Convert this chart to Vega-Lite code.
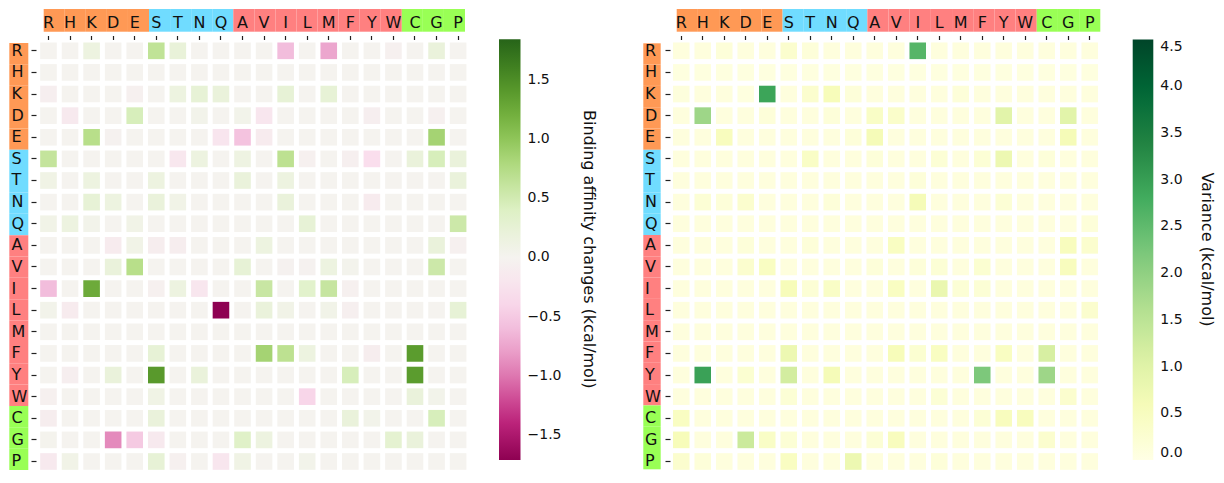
{
"$schema": "https://vega.github.io/schema/vega-lite/v6.json",
"width": 1224, "height": 483, "autosize": {"type": "none"}, "padding": 0,
"background": "white",
"config": {"font": "DejaVu Sans", "view": {"stroke": null}},
"datasets": {
"groups": [{"aa":"R","grp":"charged"},{"aa":"H","grp":"charged"},{"aa":"K","grp":"charged"},{"aa":"D","grp":"charged"},{"aa":"E","grp":"charged"},{"aa":"S","grp":"polar"},{"aa":"T","grp":"polar"},{"aa":"N","grp":"polar"},{"aa":"Q","grp":"polar"},{"aa":"A","grp":"hydrophobic"},{"aa":"V","grp":"hydrophobic"},{"aa":"I","grp":"hydrophobic"},{"aa":"L","grp":"hydrophobic"},{"aa":"M","grp":"hydrophobic"},{"aa":"F","grp":"hydrophobic"},{"aa":"Y","grp":"hydrophobic"},{"aa":"W","grp":"hydrophobic"},{"aa":"C","grp":"special"},{"aa":"G","grp":"special"},{"aa":"P","grp":"special"}],
"aff": [
{"r":"R","c":"R","v":0},{"r":"R","c":"H","v":0},{"r":"R","c":"K","v":0.15},{"r":"R","c":"D","v":0},{"r":"R","c":"E","v":0},{"r":"R","c":"S","v":0.65},{"r":"R","c":"T","v":0.22},{"r":"R","c":"N","v":0},{"r":"R","c":"Q","v":0},{"r":"R","c":"A","v":0},{"r":"R","c":"V","v":0},{"r":"R","c":"I","v":-0.6},{"r":"R","c":"L","v":0},{"r":"R","c":"M","v":-0.75},{"r":"R","c":"F","v":0},{"r":"R","c":"Y","v":0},{"r":"R","c":"W","v":-0.04},{"r":"R","c":"C","v":0},{"r":"R","c":"G","v":0.2},{"r":"R","c":"P","v":0},
{"r":"H","c":"R","v":0},{"r":"H","c":"H","v":0},{"r":"H","c":"K","v":0},{"r":"H","c":"D","v":0},{"r":"H","c":"E","v":0},{"r":"H","c":"S","v":0},{"r":"H","c":"T","v":0},{"r":"H","c":"N","v":0},{"r":"H","c":"Q","v":0},{"r":"H","c":"A","v":0},{"r":"H","c":"V","v":0},{"r":"H","c":"I","v":0},{"r":"H","c":"L","v":0},{"r":"H","c":"M","v":0},{"r":"H","c":"F","v":0},{"r":"H","c":"Y","v":0},{"r":"H","c":"W","v":0},{"r":"H","c":"C","v":0},{"r":"H","c":"G","v":0},{"r":"H","c":"P","v":0},
{"r":"K","c":"R","v":-0.08},{"r":"K","c":"H","v":0},{"r":"K","c":"K","v":0},{"r":"K","c":"D","v":0},{"r":"K","c":"E","v":-0.04},{"r":"K","c":"S","v":0},{"r":"K","c":"T","v":0.15},{"r":"K","c":"N","v":0.25},{"r":"K","c":"Q","v":0.2},{"r":"K","c":"A","v":0},{"r":"K","c":"V","v":0},{"r":"K","c":"I","v":0.25},{"r":"K","c":"L","v":0},{"r":"K","c":"M","v":0.25},{"r":"K","c":"F","v":0},{"r":"K","c":"Y","v":0},{"r":"K","c":"W","v":0},{"r":"K","c":"C","v":0},{"r":"K","c":"G","v":0},{"r":"K","c":"P","v":0},
{"r":"D","c":"R","v":0},{"r":"D","c":"H","v":-0.15},{"r":"D","c":"K","v":0},{"r":"D","c":"D","v":0},{"r":"D","c":"E","v":0.45},{"r":"D","c":"S","v":0},{"r":"D","c":"T","v":0},{"r":"D","c":"N","v":0.05},{"r":"D","c":"Q","v":0},{"r":"D","c":"A","v":0.05},{"r":"D","c":"V","v":-0.2},{"r":"D","c":"I","v":0},{"r":"D","c":"L","v":0},{"r":"D","c":"M","v":0},{"r":"D","c":"F","v":0},{"r":"D","c":"Y","v":-0.08},{"r":"D","c":"W","v":0},{"r":"D","c":"C","v":0},{"r":"D","c":"G","v":-0.05},{"r":"D","c":"P","v":0},
{"r":"E","c":"R","v":0},{"r":"E","c":"H","v":0},{"r":"E","c":"K","v":0.72},{"r":"E","c":"D","v":-0.03},{"r":"E","c":"E","v":0},{"r":"E","c":"S","v":0},{"r":"E","c":"T","v":0},{"r":"E","c":"N","v":0},{"r":"E","c":"Q","v":-0.22},{"r":"E","c":"A","v":-0.55},{"r":"E","c":"V","v":-0.13},{"r":"E","c":"I","v":0},{"r":"E","c":"L","v":0},{"r":"E","c":"M","v":0},{"r":"E","c":"F","v":0},{"r":"E","c":"Y","v":0},{"r":"E","c":"W","v":0},{"r":"E","c":"C","v":0},{"r":"E","c":"G","v":0.85},{"r":"E","c":"P","v":0},
{"r":"S","c":"R","v":0.62},{"r":"S","c":"H","v":0},{"r":"S","c":"K","v":0},{"r":"S","c":"D","v":0},{"r":"S","c":"E","v":0},{"r":"S","c":"S","v":0},{"r":"S","c":"T","v":-0.18},{"r":"S","c":"N","v":0.15},{"r":"S","c":"Q","v":0},{"r":"S","c":"A","v":0.13},{"r":"S","c":"V","v":0},{"r":"S","c":"I","v":0.68},{"r":"S","c":"L","v":-0.04},{"r":"S","c":"M","v":0},{"r":"S","c":"F","v":-0.06},{"r":"S","c":"Y","v":-0.32},{"r":"S","c":"W","v":0},{"r":"S","c":"C","v":0.2},{"r":"S","c":"G","v":0.45},{"r":"S","c":"P","v":0.2},
{"r":"T","c":"R","v":0.1},{"r":"T","c":"H","v":0},{"r":"T","c":"K","v":0.15},{"r":"T","c":"D","v":0},{"r":"T","c":"E","v":0},{"r":"T","c":"S","v":0.15},{"r":"T","c":"T","v":0},{"r":"T","c":"N","v":0},{"r":"T","c":"Q","v":0},{"r":"T","c":"A","v":0.2},{"r":"T","c":"V","v":0},{"r":"T","c":"I","v":0.15},{"r":"T","c":"L","v":0},{"r":"T","c":"M","v":0},{"r":"T","c":"F","v":0},{"r":"T","c":"Y","v":0},{"r":"T","c":"W","v":0},{"r":"T","c":"C","v":0},{"r":"T","c":"G","v":0},{"r":"T","c":"P","v":0.2},
{"r":"N","c":"R","v":0},{"r":"N","c":"H","v":0},{"r":"N","c":"K","v":0.25},{"r":"N","c":"D","v":0.15},{"r":"N","c":"E","v":0},{"r":"N","c":"S","v":0.2},{"r":"N","c":"T","v":0.08},{"r":"N","c":"N","v":0},{"r":"N","c":"Q","v":0},{"r":"N","c":"A","v":0},{"r":"N","c":"V","v":0},{"r":"N","c":"I","v":0.2},{"r":"N","c":"L","v":0},{"r":"N","c":"M","v":0},{"r":"N","c":"F","v":0},{"r":"N","c":"Y","v":-0.12},{"r":"N","c":"W","v":0},{"r":"N","c":"C","v":0},{"r":"N","c":"G","v":0},{"r":"N","c":"P","v":0},
{"r":"Q","c":"R","v":0.08},{"r":"Q","c":"H","v":0.15},{"r":"Q","c":"K","v":0.05},{"r":"Q","c":"D","v":0},{"r":"Q","c":"E","v":0.08},{"r":"Q","c":"S","v":0},{"r":"Q","c":"T","v":0},{"r":"Q","c":"N","v":0},{"r":"Q","c":"Q","v":0},{"r":"Q","c":"A","v":0},{"r":"Q","c":"V","v":0},{"r":"Q","c":"I","v":0},{"r":"Q","c":"L","v":0.25},{"r":"Q","c":"M","v":0},{"r":"Q","c":"F","v":0},{"r":"Q","c":"Y","v":0},{"r":"Q","c":"W","v":0},{"r":"Q","c":"C","v":0},{"r":"Q","c":"G","v":0},{"r":"Q","c":"P","v":0.55},
{"r":"A","c":"R","v":0},{"r":"A","c":"H","v":0},{"r":"A","c":"K","v":0},{"r":"A","c":"D","v":-0.13},{"r":"A","c":"E","v":0.08},{"r":"A","c":"S","v":-0.1},{"r":"A","c":"T","v":-0.1},{"r":"A","c":"N","v":0},{"r":"A","c":"Q","v":0},{"r":"A","c":"A","v":0},{"r":"A","c":"V","v":0.15},{"r":"A","c":"I","v":0},{"r":"A","c":"L","v":0},{"r":"A","c":"M","v":0},{"r":"A","c":"F","v":0},{"r":"A","c":"Y","v":0},{"r":"A","c":"W","v":0},{"r":"A","c":"C","v":0},{"r":"A","c":"G","v":0.2},{"r":"A","c":"P","v":-0.04},
{"r":"V","c":"R","v":0},{"r":"V","c":"H","v":0},{"r":"V","c":"K","v":0},{"r":"V","c":"D","v":0.2},{"r":"V","c":"E","v":0.72},{"r":"V","c":"S","v":0},{"r":"V","c":"T","v":0},{"r":"V","c":"N","v":0},{"r":"V","c":"Q","v":0},{"r":"V","c":"A","v":0.25},{"r":"V","c":"V","v":0},{"r":"V","c":"I","v":-0.03},{"r":"V","c":"L","v":-0.03},{"r":"V","c":"M","v":0.15},{"r":"V","c":"F","v":0.03},{"r":"V","c":"Y","v":0},{"r":"V","c":"W","v":0},{"r":"V","c":"C","v":0},{"r":"V","c":"G","v":0.55},{"r":"V","c":"P","v":0},
{"r":"I","c":"R","v":-0.6},{"r":"I","c":"H","v":0},{"r":"I","c":"K","v":1.25},{"r":"I","c":"D","v":0},{"r":"I","c":"E","v":0},{"r":"I","c":"S","v":-0.05},{"r":"I","c":"T","v":0.15},{"r":"I","c":"N","v":-0.2},{"r":"I","c":"Q","v":0},{"r":"I","c":"A","v":0},{"r":"I","c":"V","v":0.58},{"r":"I","c":"I","v":0},{"r":"I","c":"L","v":0.35},{"r":"I","c":"M","v":0.6},{"r":"I","c":"F","v":-0.05},{"r":"I","c":"Y","v":0},{"r":"I","c":"W","v":0},{"r":"I","c":"C","v":0},{"r":"I","c":"G","v":0},{"r":"I","c":"P","v":0},
{"r":"L","c":"R","v":0.05},{"r":"L","c":"H","v":-0.12},{"r":"L","c":"K","v":0},{"r":"L","c":"D","v":0},{"r":"L","c":"E","v":0},{"r":"L","c":"S","v":0},{"r":"L","c":"T","v":0},{"r":"L","c":"N","v":0},{"r":"L","c":"Q","v":-1.71},{"r":"L","c":"A","v":0},{"r":"L","c":"V","v":0.2},{"r":"L","c":"I","v":0.08},{"r":"L","c":"L","v":0},{"r":"L","c":"M","v":0.07},{"r":"L","c":"F","v":-0.06},{"r":"L","c":"Y","v":0},{"r":"L","c":"W","v":0},{"r":"L","c":"C","v":0},{"r":"L","c":"G","v":0},{"r":"L","c":"P","v":0.25},
{"r":"M","c":"R","v":0},{"r":"M","c":"H","v":0},{"r":"M","c":"K","v":0},{"r":"M","c":"D","v":0},{"r":"M","c":"E","v":0},{"r":"M","c":"S","v":0},{"r":"M","c":"T","v":0},{"r":"M","c":"N","v":0},{"r":"M","c":"Q","v":0},{"r":"M","c":"A","v":0},{"r":"M","c":"V","v":0},{"r":"M","c":"I","v":0},{"r":"M","c":"L","v":0},{"r":"M","c":"M","v":0},{"r":"M","c":"F","v":0},{"r":"M","c":"Y","v":0},{"r":"M","c":"W","v":0},{"r":"M","c":"C","v":0},{"r":"M","c":"G","v":0},{"r":"M","c":"P","v":0},
{"r":"F","c":"R","v":0},{"r":"F","c":"H","v":0},{"r":"F","c":"K","v":0},{"r":"F","c":"D","v":0},{"r":"F","c":"E","v":0},{"r":"F","c":"S","v":0.25},{"r":"F","c":"T","v":0},{"r":"F","c":"N","v":0},{"r":"F","c":"Q","v":0},{"r":"F","c":"A","v":0},{"r":"F","c":"V","v":0.85},{"r":"F","c":"I","v":0.68},{"r":"F","c":"L","v":0.15},{"r":"F","c":"M","v":0},{"r":"F","c":"F","v":0},{"r":"F","c":"Y","v":-0.1},{"r":"F","c":"W","v":0},{"r":"F","c":"C","v":1.38},{"r":"F","c":"G","v":0},{"r":"F","c":"P","v":0},
{"r":"Y","c":"R","v":0},{"r":"Y","c":"H","v":-0.08},{"r":"Y","c":"K","v":0},{"r":"Y","c":"D","v":0.2},{"r":"Y","c":"E","v":0},{"r":"Y","c":"S","v":1.4},{"r":"Y","c":"T","v":0},{"r":"Y","c":"N","v":0.2},{"r":"Y","c":"Q","v":0},{"r":"Y","c":"A","v":0},{"r":"Y","c":"V","v":0},{"r":"Y","c":"I","v":0},{"r":"Y","c":"L","v":0},{"r":"Y","c":"M","v":0},{"r":"Y","c":"F","v":0.45},{"r":"Y","c":"Y","v":0},{"r":"Y","c":"W","v":0},{"r":"Y","c":"C","v":1.38},{"r":"Y","c":"G","v":0},{"r":"Y","c":"P","v":0},
{"r":"W","c":"R","v":-0.05},{"r":"W","c":"H","v":0},{"r":"W","c":"K","v":0},{"r":"W","c":"D","v":0},{"r":"W","c":"E","v":0},{"r":"W","c":"S","v":0.1},{"r":"W","c":"T","v":0},{"r":"W","c":"N","v":0},{"r":"W","c":"Q","v":0},{"r":"W","c":"A","v":0},{"r":"W","c":"V","v":0},{"r":"W","c":"I","v":0},{"r":"W","c":"L","v":-0.4},{"r":"W","c":"M","v":0},{"r":"W","c":"F","v":0},{"r":"W","c":"Y","v":0},{"r":"W","c":"W","v":0},{"r":"W","c":"C","v":0.2},{"r":"W","c":"G","v":0.05},{"r":"W","c":"P","v":0},
{"r":"C","c":"R","v":-0.1},{"r":"C","c":"H","v":0},{"r":"C","c":"K","v":0},{"r":"C","c":"D","v":0},{"r":"C","c":"E","v":0},{"r":"C","c":"S","v":0.2},{"r":"C","c":"T","v":0},{"r":"C","c":"N","v":0},{"r":"C","c":"Q","v":0},{"r":"C","c":"A","v":0},{"r":"C","c":"V","v":0},{"r":"C","c":"I","v":0},{"r":"C","c":"L","v":0},{"r":"C","c":"M","v":0},{"r":"C","c":"F","v":0.2},{"r":"C","c":"Y","v":0.05},{"r":"C","c":"W","v":0},{"r":"C","c":"C","v":0},{"r":"C","c":"G","v":0.45},{"r":"C","c":"P","v":0},
{"r":"G","c":"R","v":0.02},{"r":"G","c":"H","v":0},{"r":"G","c":"K","v":0},{"r":"G","c":"D","v":-0.9},{"r":"G","c":"E","v":-0.5},{"r":"G","c":"S","v":-0.15},{"r":"G","c":"T","v":0},{"r":"G","c":"N","v":0},{"r":"G","c":"Q","v":0},{"r":"G","c":"A","v":0.38},{"r":"G","c":"V","v":0.15},{"r":"G","c":"I","v":0},{"r":"G","c":"L","v":0},{"r":"G","c":"M","v":0},{"r":"G","c":"F","v":0},{"r":"G","c":"Y","v":0},{"r":"G","c":"W","v":0.3},{"r":"G","c":"C","v":0.2},{"r":"G","c":"G","v":0},{"r":"G","c":"P","v":0},
{"r":"P","c":"R","v":-0.15},{"r":"P","c":"H","v":0.08},{"r":"P","c":"K","v":0},{"r":"P","c":"D","v":0},{"r":"P","c":"E","v":0},{"r":"P","c":"S","v":0.25},{"r":"P","c":"T","v":-0.05},{"r":"P","c":"N","v":0},{"r":"P","c":"Q","v":-0.2},{"r":"P","c":"A","v":0.1},{"r":"P","c":"V","v":0},{"r":"P","c":"I","v":0},{"r":"P","c":"L","v":0.05},{"r":"P","c":"M","v":0},{"r":"P","c":"F","v":0},{"r":"P","c":"Y","v":0},{"r":"P","c":"W","v":0},{"r":"P","c":"C","v":0},{"r":"P","c":"G","v":0},{"r":"P","c":"P","v":0}
],
"var": [
{"r":"R","c":"R","v":0.1},{"r":"R","c":"H","v":0.1},{"r":"R","c":"K","v":0.15},{"r":"R","c":"D","v":0.1},{"r":"R","c":"E","v":0.1},{"r":"R","c":"S","v":0.3},{"r":"R","c":"T","v":0.15},{"r":"R","c":"N","v":0.1},{"r":"R","c":"Q","v":0.1},{"r":"R","c":"A","v":0.1},{"r":"R","c":"V","v":0.1},{"r":"R","c":"I","v":2.6},{"r":"R","c":"L","v":0.1},{"r":"R","c":"M","v":0.1},{"r":"R","c":"F","v":0.1},{"r":"R","c":"Y","v":0.1},{"r":"R","c":"W","v":0.1},{"r":"R","c":"C","v":0.1},{"r":"R","c":"G","v":0.1},{"r":"R","c":"P","v":0.1},
{"r":"H","c":"R","v":0.08},{"r":"H","c":"H","v":0.08},{"r":"H","c":"K","v":0.08},{"r":"H","c":"D","v":0.08},{"r":"H","c":"E","v":0.08},{"r":"H","c":"S","v":0.08},{"r":"H","c":"T","v":0.08},{"r":"H","c":"N","v":0.08},{"r":"H","c":"Q","v":0.08},{"r":"H","c":"A","v":0.08},{"r":"H","c":"V","v":0.08},{"r":"H","c":"I","v":0.08},{"r":"H","c":"L","v":0.08},{"r":"H","c":"M","v":0.08},{"r":"H","c":"F","v":0.08},{"r":"H","c":"Y","v":0.08},{"r":"H","c":"W","v":0.08},{"r":"H","c":"C","v":0.08},{"r":"H","c":"G","v":0.08},{"r":"H","c":"P","v":0.08},
{"r":"K","c":"R","v":0.12},{"r":"K","c":"H","v":0.1},{"r":"K","c":"K","v":0.1},{"r":"K","c":"D","v":0.08},{"r":"K","c":"E","v":2.9},{"r":"K","c":"S","v":0.1},{"r":"K","c":"T","v":0.3},{"r":"K","c":"N","v":0.55},{"r":"K","c":"Q","v":0.15},{"r":"K","c":"A","v":0.1},{"r":"K","c":"V","v":0.1},{"r":"K","c":"I","v":0.1},{"r":"K","c":"L","v":0.1},{"r":"K","c":"M","v":0.15},{"r":"K","c":"F","v":0.1},{"r":"K","c":"Y","v":0.1},{"r":"K","c":"W","v":0.1},{"r":"K","c":"C","v":0.1},{"r":"K","c":"G","v":0.1},{"r":"K","c":"P","v":0.1},
{"r":"D","c":"R","v":0.1},{"r":"D","c":"H","v":1.85},{"r":"D","c":"K","v":0.1},{"r":"D","c":"D","v":0.1},{"r":"D","c":"E","v":0.15},{"r":"D","c":"S","v":0.1},{"r":"D","c":"T","v":0.1},{"r":"D","c":"N","v":0.15},{"r":"D","c":"Q","v":0.1},{"r":"D","c":"A","v":0.4},{"r":"D","c":"V","v":0.35},{"r":"D","c":"I","v":0.1},{"r":"D","c":"L","v":0.1},{"r":"D","c":"M","v":0.1},{"r":"D","c":"F","v":0.1},{"r":"D","c":"Y","v":0.95},{"r":"D","c":"W","v":0.1},{"r":"D","c":"C","v":0.1},{"r":"D","c":"G","v":0.95},{"r":"D","c":"P","v":0.1},
{"r":"E","c":"R","v":0.1},{"r":"E","c":"H","v":0.1},{"r":"E","c":"K","v":0.5},{"r":"E","c":"D","v":0.1},{"r":"E","c":"E","v":0.1},{"r":"E","c":"S","v":0.1},{"r":"E","c":"T","v":0.1},{"r":"E","c":"N","v":0.1},{"r":"E","c":"Q","v":0.15},{"r":"E","c":"A","v":0.6},{"r":"E","c":"V","v":0.1},{"r":"E","c":"I","v":0.1},{"r":"E","c":"L","v":0.1},{"r":"E","c":"M","v":0.1},{"r":"E","c":"F","v":0.1},{"r":"E","c":"Y","v":0.1},{"r":"E","c":"W","v":0.1},{"r":"E","c":"C","v":0.1},{"r":"E","c":"G","v":0.6},{"r":"E","c":"P","v":0.1},
{"r":"S","c":"R","v":0.1},{"r":"S","c":"H","v":0.1},{"r":"S","c":"K","v":0.1},{"r":"S","c":"D","v":0.1},{"r":"S","c":"E","v":0.1},{"r":"S","c":"S","v":0.1},{"r":"S","c":"T","v":0.4},{"r":"S","c":"N","v":0.1},{"r":"S","c":"Q","v":0.1},{"r":"S","c":"A","v":0.15},{"r":"S","c":"V","v":0.1},{"r":"S","c":"I","v":0.1},{"r":"S","c":"L","v":0.2},{"r":"S","c":"M","v":0.1},{"r":"S","c":"F","v":0.2},{"r":"S","c":"Y","v":0.75},{"r":"S","c":"W","v":0.1},{"r":"S","c":"C","v":0.15},{"r":"S","c":"G","v":0.1},{"r":"S","c":"P","v":0.1},
{"r":"T","c":"R","v":0.1},{"r":"T","c":"H","v":0.1},{"r":"T","c":"K","v":0.1},{"r":"T","c":"D","v":0.1},{"r":"T","c":"E","v":0.1},{"r":"T","c":"S","v":0.1},{"r":"T","c":"T","v":0.1},{"r":"T","c":"N","v":0.1},{"r":"T","c":"Q","v":0.1},{"r":"T","c":"A","v":0.1},{"r":"T","c":"V","v":0.1},{"r":"T","c":"I","v":0.15},{"r":"T","c":"L","v":0.1},{"r":"T","c":"M","v":0.1},{"r":"T","c":"F","v":0.1},{"r":"T","c":"Y","v":0.1},{"r":"T","c":"W","v":0.1},{"r":"T","c":"C","v":0.1},{"r":"T","c":"G","v":0.1},{"r":"T","c":"P","v":0.1},
{"r":"N","c":"R","v":0.1},{"r":"N","c":"H","v":0.2},{"r":"N","c":"K","v":0.15},{"r":"N","c":"D","v":0.3},{"r":"N","c":"E","v":0.1},{"r":"N","c":"S","v":0.1},{"r":"N","c":"T","v":0.1},{"r":"N","c":"N","v":0.15},{"r":"N","c":"Q","v":0.1},{"r":"N","c":"A","v":0.1},{"r":"N","c":"V","v":0.1},{"r":"N","c":"I","v":0.6},{"r":"N","c":"L","v":0.1},{"r":"N","c":"M","v":0.1},{"r":"N","c":"F","v":0.1},{"r":"N","c":"Y","v":0.2},{"r":"N","c":"W","v":0.1},{"r":"N","c":"C","v":0.1},{"r":"N","c":"G","v":0.1},{"r":"N","c":"P","v":0.1},
{"r":"Q","c":"R","v":0.1},{"r":"Q","c":"H","v":0.1},{"r":"Q","c":"K","v":0.1},{"r":"Q","c":"D","v":0.1},{"r":"Q","c":"E","v":0.1},{"r":"Q","c":"S","v":0.1},{"r":"Q","c":"T","v":0.1},{"r":"Q","c":"N","v":0.1},{"r":"Q","c":"Q","v":0.1},{"r":"Q","c":"A","v":0.1},{"r":"Q","c":"V","v":0.1},{"r":"Q","c":"I","v":0.1},{"r":"Q","c":"L","v":0.1},{"r":"Q","c":"M","v":0.1},{"r":"Q","c":"F","v":0.1},{"r":"Q","c":"Y","v":0.1},{"r":"Q","c":"W","v":0.1},{"r":"Q","c":"C","v":0.1},{"r":"Q","c":"G","v":0.1},{"r":"Q","c":"P","v":0.15},
{"r":"A","c":"R","v":0.1},{"r":"A","c":"H","v":0.1},{"r":"A","c":"K","v":0.1},{"r":"A","c":"D","v":0.15},{"r":"A","c":"E","v":0.1},{"r":"A","c":"S","v":0.1},{"r":"A","c":"T","v":0.15},{"r":"A","c":"N","v":0.1},{"r":"A","c":"Q","v":0.1},{"r":"A","c":"A","v":0.1},{"r":"A","c":"V","v":0.45},{"r":"A","c":"I","v":0.1},{"r":"A","c":"L","v":0.1},{"r":"A","c":"M","v":0.1},{"r":"A","c":"F","v":0.1},{"r":"A","c":"Y","v":0.1},{"r":"A","c":"W","v":0.1},{"r":"A","c":"C","v":0.1},{"r":"A","c":"G","v":0.5},{"r":"A","c":"P","v":0.3},
{"r":"V","c":"R","v":0.1},{"r":"V","c":"H","v":0.1},{"r":"V","c":"K","v":0.1},{"r":"V","c":"D","v":0.3},{"r":"V","c":"E","v":0.45},{"r":"V","c":"S","v":0.1},{"r":"V","c":"T","v":0.1},{"r":"V","c":"N","v":0.1},{"r":"V","c":"Q","v":0.1},{"r":"V","c":"A","v":0.15},{"r":"V","c":"V","v":0.1},{"r":"V","c":"I","v":0.15},{"r":"V","c":"L","v":0.2},{"r":"V","c":"M","v":0.1},{"r":"V","c":"F","v":0.25},{"r":"V","c":"Y","v":0.1},{"r":"V","c":"W","v":0.1},{"r":"V","c":"C","v":0.1},{"r":"V","c":"G","v":0.5},{"r":"V","c":"P","v":0.1},
{"r":"I","c":"R","v":0.1},{"r":"I","c":"H","v":0.1},{"r":"I","c":"K","v":0.1},{"r":"I","c":"D","v":0.1},{"r":"I","c":"E","v":0.1},{"r":"I","c":"S","v":0.55},{"r":"I","c":"T","v":0.2},{"r":"I","c":"N","v":0.4},{"r":"I","c":"Q","v":0.1},{"r":"I","c":"A","v":0.1},{"r":"I","c":"V","v":0.45},{"r":"I","c":"I","v":0.1},{"r":"I","c":"L","v":0.8},{"r":"I","c":"M","v":0.2},{"r":"I","c":"F","v":0.2},{"r":"I","c":"Y","v":0.1},{"r":"I","c":"W","v":0.1},{"r":"I","c":"C","v":0.1},{"r":"I","c":"G","v":0.1},{"r":"I","c":"P","v":0.1},
{"r":"L","c":"R","v":0.1},{"r":"L","c":"H","v":0.1},{"r":"L","c":"K","v":0.1},{"r":"L","c":"D","v":0.1},{"r":"L","c":"E","v":0.1},{"r":"L","c":"S","v":0.1},{"r":"L","c":"T","v":0.1},{"r":"L","c":"N","v":0.1},{"r":"L","c":"Q","v":0.1},{"r":"L","c":"A","v":0.1},{"r":"L","c":"V","v":0.1},{"r":"L","c":"I","v":0.1},{"r":"L","c":"L","v":0.1},{"r":"L","c":"M","v":0.1},{"r":"L","c":"F","v":0.1},{"r":"L","c":"Y","v":0.1},{"r":"L","c":"W","v":0.1},{"r":"L","c":"C","v":0.1},{"r":"L","c":"G","v":0.1},{"r":"L","c":"P","v":0.3},
{"r":"M","c":"R","v":0.1},{"r":"M","c":"H","v":0.1},{"r":"M","c":"K","v":0.1},{"r":"M","c":"D","v":0.1},{"r":"M","c":"E","v":0.1},{"r":"M","c":"S","v":0.1},{"r":"M","c":"T","v":0.1},{"r":"M","c":"N","v":0.1},{"r":"M","c":"Q","v":0.1},{"r":"M","c":"A","v":0.1},{"r":"M","c":"V","v":0.1},{"r":"M","c":"I","v":0.1},{"r":"M","c":"L","v":0.1},{"r":"M","c":"M","v":0.1},{"r":"M","c":"F","v":0.1},{"r":"M","c":"Y","v":0.1},{"r":"M","c":"W","v":0.1},{"r":"M","c":"C","v":0.1},{"r":"M","c":"G","v":0.1},{"r":"M","c":"P","v":0.1},
{"r":"F","c":"R","v":0.1},{"r":"F","c":"H","v":0.1},{"r":"F","c":"K","v":0.1},{"r":"F","c":"D","v":0.1},{"r":"F","c":"E","v":0.1},{"r":"F","c":"S","v":0.75},{"r":"F","c":"T","v":0.1},{"r":"F","c":"N","v":0.1},{"r":"F","c":"Q","v":0.1},{"r":"F","c":"A","v":0.1},{"r":"F","c":"V","v":0.55},{"r":"F","c":"I","v":0.25},{"r":"F","c":"L","v":0.45},{"r":"F","c":"M","v":0.1},{"r":"F","c":"F","v":0.1},{"r":"F","c":"Y","v":0.45},{"r":"F","c":"W","v":0.1},{"r":"F","c":"C","v":1.15},{"r":"F","c":"G","v":0.1},{"r":"F","c":"P","v":0.1},
{"r":"Y","c":"R","v":0.1},{"r":"Y","c":"H","v":2.95},{"r":"Y","c":"K","v":0.1},{"r":"Y","c":"D","v":0.25},{"r":"Y","c":"E","v":0.1},{"r":"Y","c":"S","v":1.2},{"r":"Y","c":"T","v":0.1},{"r":"Y","c":"N","v":0.6},{"r":"Y","c":"Q","v":0.1},{"r":"Y","c":"A","v":0.1},{"r":"Y","c":"V","v":0.1},{"r":"Y","c":"I","v":0.1},{"r":"Y","c":"L","v":0.1},{"r":"Y","c":"M","v":0.1},{"r":"Y","c":"F","v":2.2},{"r":"Y","c":"Y","v":0.1},{"r":"Y","c":"W","v":0.1},{"r":"Y","c":"C","v":1.85},{"r":"Y","c":"G","v":0.1},{"r":"Y","c":"P","v":0.1},
{"r":"W","c":"R","v":0.1},{"r":"W","c":"H","v":0.1},{"r":"W","c":"K","v":0.1},{"r":"W","c":"D","v":0.1},{"r":"W","c":"E","v":0.1},{"r":"W","c":"S","v":0.2},{"r":"W","c":"T","v":0.1},{"r":"W","c":"N","v":0.1},{"r":"W","c":"Q","v":0.1},{"r":"W","c":"A","v":0.1},{"r":"W","c":"V","v":0.1},{"r":"W","c":"I","v":0.1},{"r":"W","c":"L","v":0.2},{"r":"W","c":"M","v":0.1},{"r":"W","c":"F","v":0.1},{"r":"W","c":"Y","v":0.1},{"r":"W","c":"W","v":0.1},{"r":"W","c":"C","v":0.1},{"r":"W","c":"G","v":0.3},{"r":"W","c":"P","v":0.1},
{"r":"C","c":"R","v":0.45},{"r":"C","c":"H","v":0.1},{"r":"C","c":"K","v":0.1},{"r":"C","c":"D","v":0.1},{"r":"C","c":"E","v":0.1},{"r":"C","c":"S","v":0.1},{"r":"C","c":"T","v":0.1},{"r":"C","c":"N","v":0.1},{"r":"C","c":"Q","v":0.1},{"r":"C","c":"A","v":0.1},{"r":"C","c":"V","v":0.1},{"r":"C","c":"I","v":0.1},{"r":"C","c":"L","v":0.1},{"r":"C","c":"M","v":0.1},{"r":"C","c":"F","v":0.2},{"r":"C","c":"Y","v":0.5},{"r":"C","c":"W","v":0.5},{"r":"C","c":"C","v":0.1},{"r":"C","c":"G","v":0.1},{"r":"C","c":"P","v":0.1},
{"r":"G","c":"R","v":0.55},{"r":"G","c":"H","v":0.1},{"r":"G","c":"K","v":0.1},{"r":"G","c":"D","v":1.3},{"r":"G","c":"E","v":0.4},{"r":"G","c":"S","v":0.2},{"r":"G","c":"T","v":0.1},{"r":"G","c":"N","v":0.1},{"r":"G","c":"Q","v":0.1},{"r":"G","c":"A","v":0.2},{"r":"G","c":"V","v":0.5},{"r":"G","c":"I","v":0.1},{"r":"G","c":"L","v":0.1},{"r":"G","c":"M","v":0.1},{"r":"G","c":"F","v":0.1},{"r":"G","c":"Y","v":0.1},{"r":"G","c":"W","v":0.1},{"r":"G","c":"C","v":0.3},{"r":"G","c":"G","v":0.1},{"r":"G","c":"P","v":0.1},
{"r":"P","c":"R","v":0.3},{"r":"P","c":"H","v":0.15},{"r":"P","c":"K","v":0.1},{"r":"P","c":"D","v":0.1},{"r":"P","c":"E","v":0.1},{"r":"P","c":"S","v":0.45},{"r":"P","c":"T","v":0.1},{"r":"P","c":"N","v":0.1},{"r":"P","c":"Q","v":0.75},{"r":"P","c":"A","v":0.1},{"r":"P","c":"V","v":0.1},{"r":"P","c":"I","v":0.1},{"r":"P","c":"L","v":0.15},{"r":"P","c":"M","v":0.1},{"r":"P","c":"F","v":0.1},{"r":"P","c":"Y","v":0.1},{"r":"P","c":"W","v":0.1},{"r":"P","c":"C","v":0.1},{"r":"P","c":"G","v":0.1},{"r":"P","c":"P","v":0.1}
]
},
"layer": [
{
"data": {"name": "groups"},
"mark": {"type": "rect"},
"encoding": {
"x": {"field": "aa", "type": "nominal", "scale": {"domain": ["R","H","K","D","E","S","T","N","Q","A","V","I","L","M","F","Y","W","C","G","P"], "range": [43.7, 465], "paddingInner": 0, "paddingOuter": 0}, "axis": null},
"y": {"datum": 0, "type": "quantitative", "scale": {"domain": [0, 1], "range": [31.7, 9], "nice": false, "zero": false}, "axis": null},
"y2": {"datum": 1},
"color": {"field": "grp", "type": "nominal", "scale": {"domain": ["charged","polar","hydrophobic","special"], "range": ["#ff9955","#70dcff","#ff8080","#99ff55"]}, "legend": null}
}
},
{
"data": {"name": "groups"},
"mark": {"type": "rect"},
"encoding": {
"y": {"field": "aa", "type": "nominal", "scale": {"domain": ["R","H","K","D","E","S","T","N","Q","A","V","I","L","M","F","Y","W","C","G","P"], "range": [43, 470], "paddingInner": 0, "paddingOuter": 0}, "axis": null},
"x": {"datum": 0, "type": "quantitative", "scale": {"domain": [0, 1], "range": [9.3, 28.3], "nice": false, "zero": false}, "axis": null},
"x2": {"datum": 1},
"color": {"field": "grp", "type": "nominal", "scale": {"domain": ["charged","polar","hydrophobic","special"], "range": ["#ff9955","#70dcff","#ff8080","#99ff55"]}, "legend": null}
}
},
{
"data": {"name": "aff"},
"mark": {"type": "rect"},
"encoding": {
"x": {"field": "c", "type": "nominal", "scale": {"domain": ["R","H","K","D","E","S","T","N","Q","A","V","I","L","M","F","Y","W","C","G","P"], "range": [37.7, 468.9], "paddingInner": 0.23, "paddingOuter": 0.115},
 "axis": {"orient": "top", "offset": -39.5, "title": null, "domain": false, "ticks": true, "tickSize": 4, "tickWidth": 1.2, "tickColor": "#222", "labelAngle": 0, "labelFontSize": 16, "labelColor": "#111", "labelPadding": 5, "zindex": 1}},
"y": {"field": "r", "type": "nominal", "scale": {"domain": ["R","H","K","D","E","S","T","N","Q","A","V","I","L","M","F","Y","W","C","G","P"], "range": [40, 472.3], "paddingInner": 0.23, "paddingOuter": 0.115},
 "axis": {"orient": "left", "offset": -36, "title": null, "domain": false, "ticks": true, "tickSize": 5, "tickWidth": 1.2, "tickColor": "#222", "labelFontSize": 16, "labelColor": "#111", "labelAlign": "left", "labelBaseline": "middle", "labelPadding": 20, "zindex": 1}},
"color": {"field": "v", "type": "quantitative", "scale": {"scheme": "pinkyellowgreen", "domain": [-1.71, 1.84], "domainMid": 0},
 "legend": {"orient": "none", "legendX": 499, "legendY": 39.3, "direction": "vertical", "gradientLength": 420.7, "gradientThickness": 21.5, "gradientStrokeWidth": 0, "values": [-1.5, -1, -0.5, 0, 0.5, 1, 1.5], "format": ".1f", "labelFontSize": 14, "labelColor": "#111", "labelOffset": 7, "labelOverlap": false, "title": "Binding affinity changes (kcal/mol)", "titleLimit": 1000, "titleOrient": "right", "titleFontSize": 16, "titleFontWeight": "normal", "titleColor": "#111", "titlePadding": 20, "padding": 0}}
}
},
{
"data": {"name": "groups"},
"mark": {"type": "rect"},
"encoding": {
"x": {"field": "aa", "type": "nominal", "scale": {"domain": ["R","H","K","D","E","S","T","N","Q","A","V","I","L","M","F","Y","W","C","G","P"], "range": [676.7, 1100.3], "paddingInner": 0, "paddingOuter": 0}, "axis": null},
"y": {"datum": 0, "type": "quantitative", "scale": {"domain": [0, 1], "range": [31.7, 9], "nice": false, "zero": false}, "axis": null},
"y2": {"datum": 1},
"color": {"field": "grp", "type": "nominal", "scale": {"domain": ["charged","polar","hydrophobic","special"], "range": ["#ff9955","#70dcff","#ff8080","#99ff55"]}, "legend": null}
}
},
{
"data": {"name": "groups"},
"mark": {"type": "rect"},
"encoding": {
"y": {"field": "aa", "type": "nominal", "scale": {"domain": ["R","H","K","D","E","S","T","N","Q","A","V","I","L","M","F","Y","W","C","G","P"], "range": [43.3, 469.3], "paddingInner": 0, "paddingOuter": 0}, "axis": null},
"x": {"datum": 0, "type": "quantitative", "scale": {"domain": [0, 1], "range": [643.3, 660.7], "nice": false, "zero": false}, "axis": null},
"x2": {"datum": 1},
"color": {"field": "grp", "type": "nominal", "scale": {"domain": ["charged","polar","hydrophobic","special"], "range": ["#ff9955","#70dcff","#ff8080","#99ff55"]}, "legend": null}
}
},
{
"data": {"name": "var"},
"mark": {"type": "rect"},
"encoding": {
"x": {"field": "c", "type": "nominal", "scale": {"domain": ["R","H","K","D","E","S","T","N","Q","A","V","I","L","M","F","Y","W","C","G","P"], "range": [670.5, 1100.5], "paddingInner": 0.23, "paddingOuter": 0.115},
 "axis": {"orient": "top", "offset": -39.5, "title": null, "domain": false, "ticks": true, "tickSize": 4, "tickWidth": 1.2, "tickColor": "#222", "labelAngle": 0, "labelFontSize": 16, "labelColor": "#111", "labelPadding": 5, "zindex": 1}},
"y": {"field": "r", "type": "nominal", "scale": {"domain": ["R","H","K","D","E","S","T","N","Q","A","V","I","L","M","F","Y","W","C","G","P"], "range": [40, 472.3], "paddingInner": 0.23, "paddingOuter": 0.115},
 "axis": {"orient": "left", "offset": -670, "title": null, "domain": false, "ticks": true, "tickSize": 5, "tickWidth": 1.2, "tickColor": "#222", "labelFontSize": 16, "labelColor": "#111", "labelAlign": "left", "labelBaseline": "middle", "labelPadding": 20.5, "zindex": 1}},
"color": {"field": "v", "type": "quantitative", "scale": {"domain": [0, 0.5625, 1.125, 1.6875, 2.25, 2.8125, 3.375, 3.9375, 4.5], "range": ["#ffffe5","#f7fcb9","#d9f0a3","#addd8e","#78c679","#41ab5d","#238443","#006837","#004529"], "interpolate": "rgb"},
 "legend": {"orient": "none", "legendX": 1132.7, "legendY": 39.5, "direction": "vertical", "gradientLength": 420.5, "gradientThickness": 20.6, "gradientStrokeWidth": 0, "values": [0, 0.5, 1, 1.5, 2, 2.5, 3, 3.5, 4, 4.5], "format": ".1f", "labelFontSize": 14, "labelColor": "#111", "labelOffset": 7, "labelOverlap": false, "title": "Variance (kcal/mol)", "titleLimit": 1000, "titleOrient": "right", "titleFontSize": 16, "titleFontWeight": "normal", "titleColor": "#111", "titlePadding": 16, "padding": 0}}
}
}
],
"resolve": {"scale": {"x": "independent", "y": "independent", "color": "independent"}}
}
